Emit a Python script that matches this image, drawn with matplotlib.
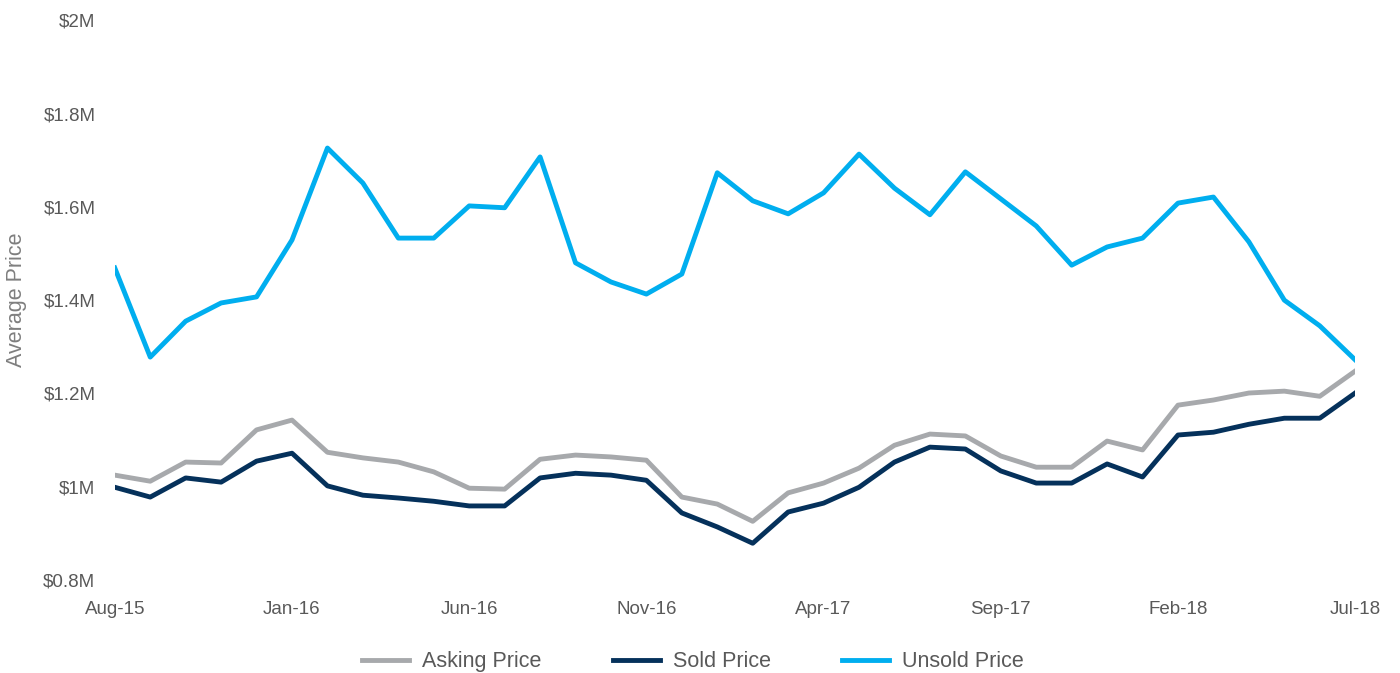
import pandas as pd
import matplotlib.pyplot as plt
from matplotlib.ticker import FuncFormatter

plt.rcParams['font.family'] = ['Liberation Sans', 'DejaVu Sans']

# monthly data, Aug-15 .. Jul-18 (values in $M)
months = pd.date_range('2015-08-01', '2018-07-01', freq='MS').strftime('%b-%y').tolist()

asking = [1.025, 1.012, 1.053, 1.051, 1.122, 1.143, 1.074, 1.062, 1.053, 1.032,
          0.997, 0.995, 1.059, 1.068, 1.064, 1.057, 0.978, 0.963, 0.926, 0.987,
          1.008, 1.040, 1.089, 1.113, 1.109, 1.066, 1.042, 1.042, 1.098, 1.079,
          1.175, 1.186, 1.201, 1.205, 1.194, 1.248]
sold = [0.999, 0.978, 1.019, 1.010, 1.055, 1.072, 1.002, 0.982, 0.976, 0.969,
        0.959, 0.959, 1.019, 1.029, 1.025, 1.014, 0.944, 0.914, 0.879, 0.946,
        0.965, 0.999, 1.053, 1.085, 1.081, 1.034, 1.008, 1.008, 1.049, 1.021,
        1.111, 1.117, 1.134, 1.147, 1.147, 1.201]
unsold = [1.469, 1.278, 1.355, 1.394, 1.407, 1.529, 1.726, 1.651, 1.533, 1.533,
          1.602, 1.598, 1.707, 1.480, 1.439, 1.413, 1.456, 1.673, 1.613, 1.585,
          1.630, 1.713, 1.640, 1.583, 1.675, 1.617, 1.559, 1.475, 1.514, 1.533,
          1.608, 1.621, 1.525, 1.400, 1.345, 1.272]

y_ticks = [0.8, 1.0, 1.2, 1.4, 1.6, 1.8, 2.0]

fig = plt.figure(figsize=(14, 6.73), dpi=100)
ax = fig.add_axes([0.082, 0.138, 0.886, 0.832])

x = range(len(months))
ax.plot(x, asking, color='#A7A9AC', lw=3.5, label='Asking Price')
ax.plot(x, sold, color='#05315B', lw=3.5, label='Sold Price')
ax.plot(x, unsold, color='#00AEEF', lw=3.5, label='Unsold Price')

ax.set_xlim(0, len(months) - 1)
ax.set_ylim(0.8, 2.0)
ax.set_yticks(y_ticks)
ax.yaxis.set_major_formatter(FuncFormatter(lambda v, p: '$%gM' % round(v, 1)))
ax.set_xticks(list(x)[::5])
ax.set_xticklabels(months[::5])

for s in ax.spines.values():
    s.set_visible(False)
ax.tick_params(length=0, labelsize=13.5, colors='#595959')
ax.tick_params(axis='y', pad=14)
ax.tick_params(axis='x', pad=15)
ax.set_ylabel('Average Price', fontsize=15.5, color='#7F7F7F', labelpad=12)

fig.legend(loc='center', bbox_to_anchor=(0.495, 0.017), ncol=3, frameon=False,
           fontsize=15.5, labelcolor='#595959', handlelength=2.2, handletextpad=0.6,
           columnspacing=3.3, borderpad=0.2)

fig.savefig('out.png', dpi=100)
